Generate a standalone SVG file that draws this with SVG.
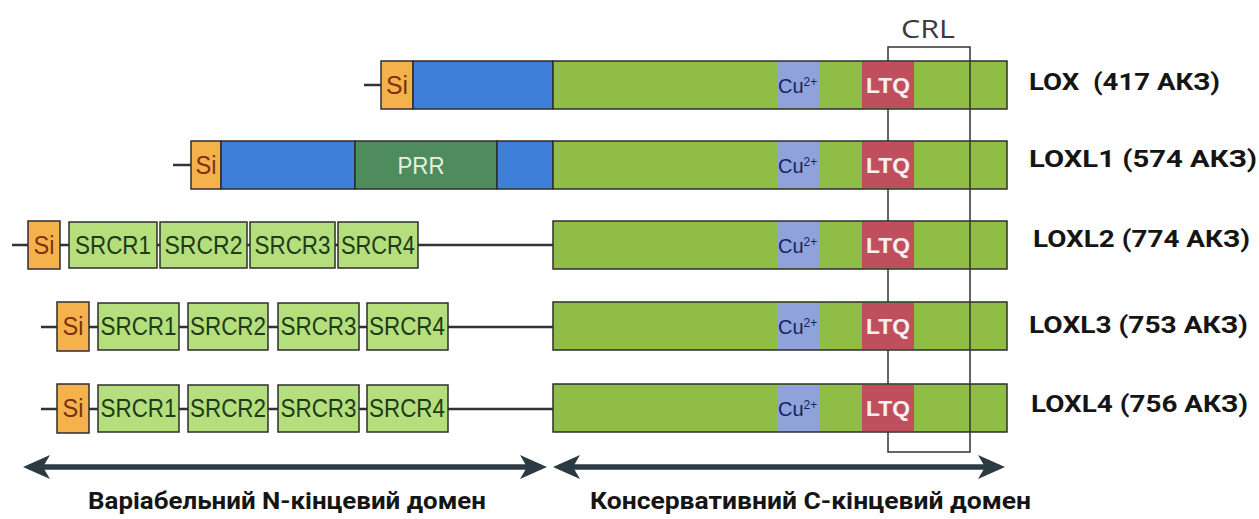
<svg xmlns="http://www.w3.org/2000/svg" width="1259" height="519" viewBox="0 0 1259 519">
<style>
.bb{stroke:#2e2e2e;stroke-width:1.5}
.si{fill:#f5b24c}
.blue{fill:#3e7fda}
.prr{fill:#4f8c5d}
.grn{fill:#8fbd46}
.cu{fill:#8fa2da}
.ltq{fill:#bf4f5d}
.srcr{fill:#b4df7c}
.t{font-family:"Liberation Sans",Arial,sans-serif}
.tsi{font-size:25px;fill:#7a3210;text-anchor:middle}
.tsr{font-size:25px;fill:#213a18;text-anchor:middle}
.tprr{font-size:23px;fill:#e3f2e0;text-anchor:middle}
.tcu{font-size:20px;fill:#17245a}
.tsup{font-size:12px}
.tltq{font-size:22px;font-weight:bold;fill:#fbeef0;text-anchor:middle}
.lab{font-family:Roboto,"DejaVu Sans",sans-serif;font-weight:bold;font-size:24px;fill:#151515}
.dom{font-family:Roboto,"DejaVu Sans",sans-serif;font-weight:bold;font-size:23px;fill:#151515}
.ln{stroke:#333;stroke-width:2.5;fill:none}
.br{stroke:#333;stroke-width:1.5;fill:none}
.arr{stroke:#2c3a43;stroke-width:5.5;fill:none}
</style>
<defs>
<marker id="ah" viewBox="0 0 27 24" refX="21" refY="12" markerWidth="27" markerHeight="24" markerUnits="userSpaceOnUse" orient="auto-start-reverse">
<path d="M0,0 L27,12 L0,24 L7,12 Z" fill="#2c3a43"/>
</marker>
</defs>
<g id="backbones">
<line class="ln" x1="364" y1="85" x2="382" y2="85"/>
<line class="ln" x1="173" y1="165" x2="192" y2="165"/>
<line class="ln" x1="12" y1="245" x2="554" y2="245"/>
<line class="ln" x1="41" y1="327" x2="554" y2="327"/>
<line class="ln" x1="41" y1="409" x2="554" y2="409"/>
</g>
<g id="LOX">
<rect class="si bb" x="381" y="61" width="32" height="48"/>
<rect class="blue bb" x="413" y="61" width="140" height="48"/>
<rect class="grn bb" x="553" y="61" width="454" height="48"/>
<rect class="cu" x="777" y="62" width="43" height="46"/>
<rect class="ltq" x="862" y="62" width="52" height="46"/>
<text class="t tsi" x="397" y="94" textLength="22" lengthAdjust="spacingAndGlyphs">Si</text>
<text class="t tcu" x="778" y="93">Cu<tspan class="tsup" dy="-7">2+</tspan></text>
<text class="t tltq" x="888" y="93" textLength="44" lengthAdjust="spacingAndGlyphs">LTQ</text>
<text class="lab" x="1029" y="90" xml:space="preserve" textLength="191" lengthAdjust="spacingAndGlyphs">LOX  (417 АКЗ)</text>
</g>
<g id="LOXL1">
<rect class="si bb" x="191" y="141" width="30" height="48"/>
<rect class="blue bb" x="221" y="141" width="134" height="48"/>
<rect class="prr bb" x="355" y="141" width="142" height="48"/>
<rect class="blue bb" x="497" y="141" width="56" height="48"/>
<rect class="grn bb" x="553" y="141" width="454" height="48"/>
<rect class="cu" x="777" y="142" width="43" height="46"/>
<rect class="ltq" x="862" y="142" width="52" height="46"/>
<text class="t tsi" x="206" y="174" textLength="21" lengthAdjust="spacingAndGlyphs">Si</text>
<text class="t tprr" x="421" y="174" textLength="47" lengthAdjust="spacingAndGlyphs">PRR</text>
<text class="t tcu" x="778" y="173">Cu<tspan class="tsup" dy="-7">2+</tspan></text>
<text class="t tltq" x="888" y="173" textLength="44" lengthAdjust="spacingAndGlyphs">LTQ</text>
<text class="lab" x="1029" y="167" textLength="228" lengthAdjust="spacingAndGlyphs">LOXL1 (574 АКЗ)</text>
</g>
<g id="LOXL2">
<rect class="si bb" x="28" y="221" width="32" height="48"/>
<rect class="srcr bb" x="69" y="222" width="88" height="46"/>
<rect class="srcr bb" x="160" y="222" width="87" height="46"/>
<rect class="srcr bb" x="250" y="222" width="85" height="46"/>
<rect class="srcr bb" x="338" y="222" width="80" height="46"/>
<rect class="grn bb" x="553" y="221" width="454" height="48"/>
<rect class="cu" x="777" y="222" width="43" height="46"/>
<rect class="ltq" x="862" y="222" width="52" height="46"/>
<text class="t tsi" x="44" y="254" textLength="21" lengthAdjust="spacingAndGlyphs">Si</text>
<text class="t tsr" x="113" y="254" textLength="76" lengthAdjust="spacingAndGlyphs">SRCR1</text>
<text class="t tsr" x="203.5" y="254" textLength="78" lengthAdjust="spacingAndGlyphs">SRCR2</text>
<text class="t tsr" x="292.5" y="254" textLength="76" lengthAdjust="spacingAndGlyphs">SRCR3</text>
<text class="t tsr" x="378" y="254" textLength="74" lengthAdjust="spacingAndGlyphs">SRCR4</text>
<text class="t tcu" x="778" y="253">Cu<tspan class="tsup" dy="-7">2+</tspan></text>
<text class="t tltq" x="888" y="253" textLength="44" lengthAdjust="spacingAndGlyphs">LTQ</text>
<text class="lab" x="1033" y="247" textLength="217" lengthAdjust="spacingAndGlyphs">LOXL2 (774 АКЗ)</text>
</g>
<g id="LOXL3">
<rect class="si bb" x="57" y="302" width="32" height="49"/>
<rect class="srcr bb" x="98" y="303" width="81" height="47"/>
<rect class="srcr bb" x="188" y="303" width="80" height="47"/>
<rect class="srcr bb" x="278" y="303" width="81" height="47"/>
<rect class="srcr bb" x="367" y="303" width="81" height="47"/>
<rect class="grn bb" x="553" y="302" width="454" height="48"/>
<rect class="cu" x="777" y="303" width="43" height="46"/>
<rect class="ltq" x="862" y="303" width="52" height="46"/>
<text class="t tsi" x="73" y="335" textLength="21" lengthAdjust="spacingAndGlyphs">Si</text>
<text class="t tsr" x="138.5" y="335" textLength="76" lengthAdjust="spacingAndGlyphs">SRCR1</text>
<text class="t tsr" x="228" y="335" textLength="76" lengthAdjust="spacingAndGlyphs">SRCR2</text>
<text class="t tsr" x="318.5" y="335" textLength="76" lengthAdjust="spacingAndGlyphs">SRCR3</text>
<text class="t tsr" x="407" y="335" textLength="76" lengthAdjust="spacingAndGlyphs">SRCR4</text>
<text class="t tcu" x="778" y="334">Cu<tspan class="tsup" dy="-7">2+</tspan></text>
<text class="t tltq" x="888" y="334" textLength="44" lengthAdjust="spacingAndGlyphs">LTQ</text>
<text class="lab" x="1029" y="333" textLength="219" lengthAdjust="spacingAndGlyphs">LOXL3 (753 АКЗ)</text>
</g>
<g id="LOXL4">
<rect class="si bb" x="57" y="384" width="32" height="49"/>
<rect class="srcr bb" x="98" y="385" width="81" height="47"/>
<rect class="srcr bb" x="188" y="385" width="80" height="47"/>
<rect class="srcr bb" x="278" y="385" width="81" height="47"/>
<rect class="srcr bb" x="367" y="385" width="81" height="47"/>
<rect class="grn bb" x="553" y="384" width="454" height="48"/>
<rect class="cu" x="777" y="385" width="43" height="46"/>
<rect class="ltq" x="862" y="385" width="52" height="46"/>
<text class="t tsi" x="73" y="417" textLength="21" lengthAdjust="spacingAndGlyphs">Si</text>
<text class="t tsr" x="138.5" y="417" textLength="76" lengthAdjust="spacingAndGlyphs">SRCR1</text>
<text class="t tsr" x="228" y="417" textLength="76" lengthAdjust="spacingAndGlyphs">SRCR2</text>
<text class="t tsr" x="318.5" y="417" textLength="76" lengthAdjust="spacingAndGlyphs">SRCR3</text>
<text class="t tsr" x="407" y="417" textLength="76" lengthAdjust="spacingAndGlyphs">SRCR4</text>
<text class="t tcu" x="778" y="416">Cu<tspan class="tsup" dy="-7">2+</tspan></text>
<text class="t tltq" x="888" y="416" textLength="44" lengthAdjust="spacingAndGlyphs">LTQ</text>
<text class="lab" x="1031" y="412" textLength="217" lengthAdjust="spacingAndGlyphs">LOXL4 (756 АКЗ)</text>
</g>
<g id="connectors">
<path class="br" d="M888,61 V47 H970 V452 H888 V432 M888,109 V141 M888,189 V221 M888,269 V302 M888,350 V384"/>
<line class="arr" x1="29" y1="467" x2="541" y2="467" marker-start="url(#ah)" marker-end="url(#ah)"/>
<line class="arr" x1="559" y1="467" x2="999" y2="467" marker-start="url(#ah)" marker-end="url(#ah)"/>
</g>
<g id="labels">
<text x="928" y="38" font-family="'Open Sans','Liberation Sans',sans-serif" font-size="26" fill="#3a3a3a" text-anchor="middle" textLength="54" lengthAdjust="spacingAndGlyphs">CRL</text>
<text class="dom" x="88" y="509" textLength="398" lengthAdjust="spacingAndGlyphs">Варіабельний N-кінцевий домен</text>
<text class="dom" x="590" y="509" textLength="441" lengthAdjust="spacingAndGlyphs">Консервативний C-кінцевий домен</text>
</g>
</svg>
